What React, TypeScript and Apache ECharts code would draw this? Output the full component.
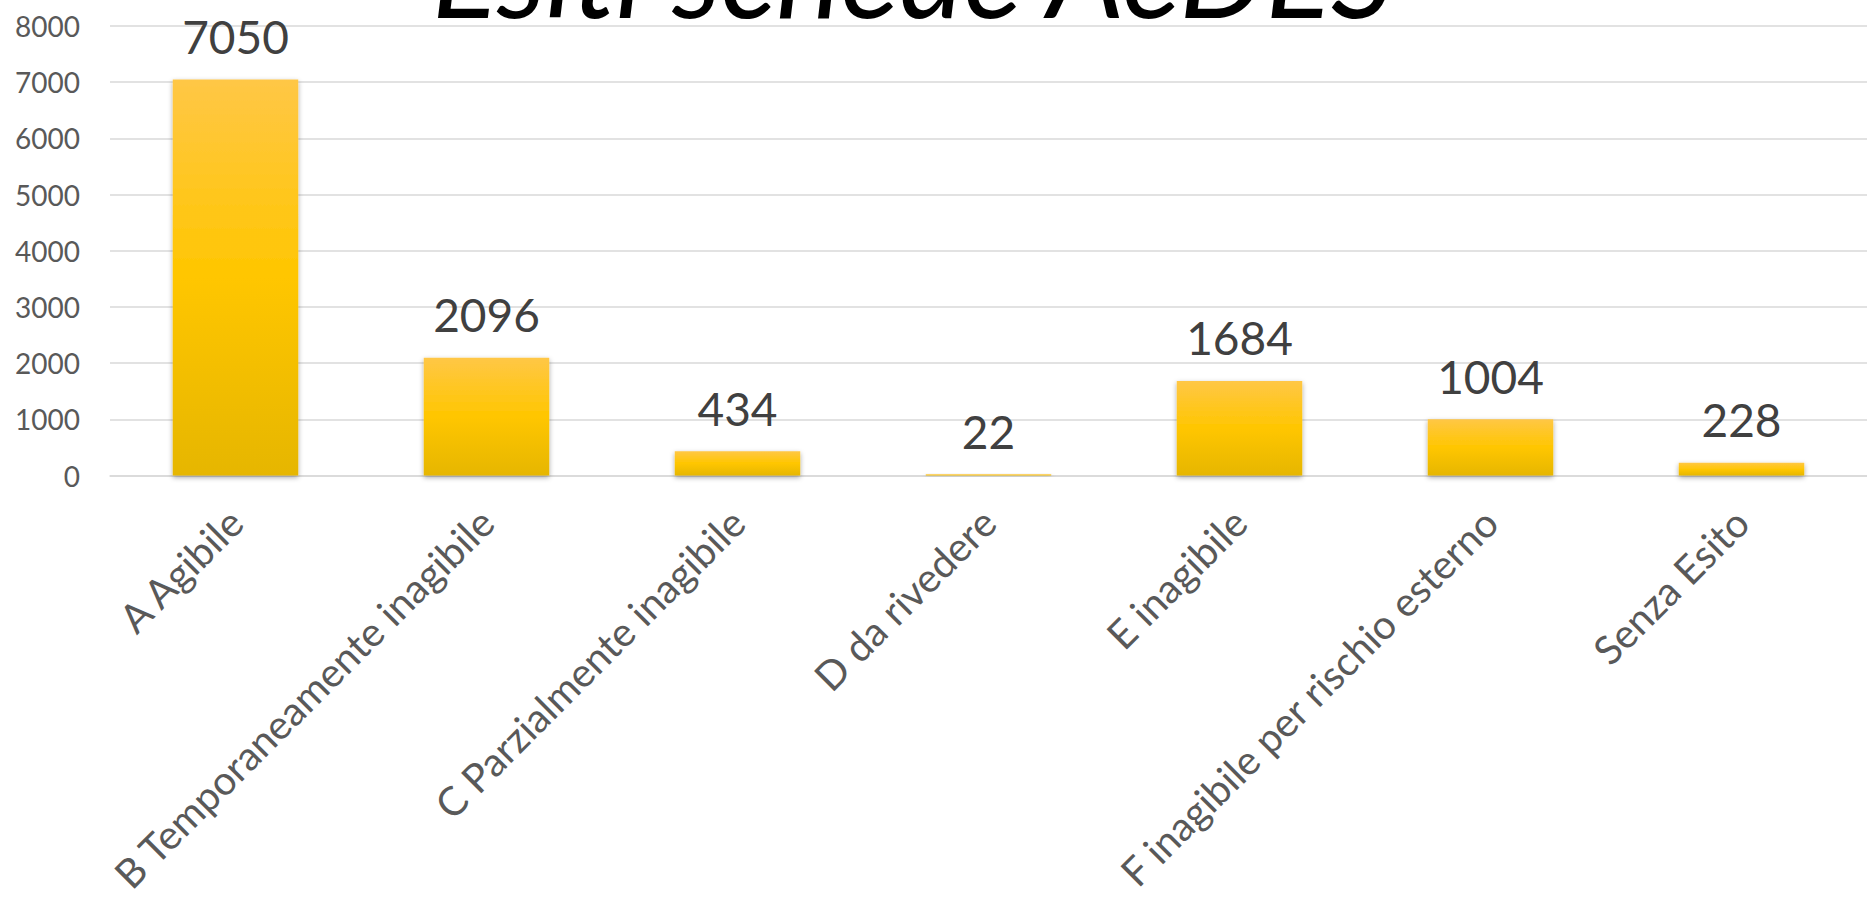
import React, { useEffect, useRef } from "react";
import * as echarts from "echarts";

const TITLE = "Esiti schede AeDES";
const categories = [
  "A Agibile",
  "B Temporaneamente inagibile",
  "C Parzialmente inagibile",
  "D da rivedere",
  "E inagibile",
  "F inagibile per rischio esterno",
  "Senza Esito",
];
const values = [7050, 2096, 434, 22, 1684, 1004, 228];
const yMin = 0;
const yMax = 8000;
const yInterval = 1000;

export default function App() {
  const ref = useRef<HTMLDivElement>(null);
  useEffect(() => {
    if (!ref.current) return;
    const chart = echarts.init(ref.current, undefined, { renderer: "svg" });
    const font = "Lato, 'Open Sans', sans-serif";
    chart.setOption({
      animation: false,
      backgroundColor: "#ffffff",
      grid: { left: 110, right: -11, top: 26, bottom: 422, containLabel: false },
      graphic: [
        {
          type: "text",
          left: 432,
          top: -90,
          style: {
            text: TITLE,
            fontSize: 122,
            fontStyle: "italic",
            fontFamily: font,
            fill: "#000000",
          },
          z: 0,
        },
      ],
      xAxis: {
        type: "category",
        data: categories,
        axisLine: { show: true, lineStyle: { color: "#D9D9D9", width: 1.5 } },
        axisTick: { show: false },
        axisLabel: {
          rotate: 45,
          interval: 0,
          margin: 40,
          fontSize: 40,
          fontFamily: font,
          color: "#595959",
        },
      },
      yAxis: {
        type: "value",
        min: yMin,
        max: yMax,
        interval: yInterval,
        axisLine: { show: false },
        axisTick: { show: false },
        splitLine: { lineStyle: { color: "#D9D9D9", width: 1.5 } },
        axisLabel: {
          margin: 30,
          fontSize: 28,
          fontFamily: font,
          color: "#595959",
          formatter: (v: number) => String(v),
        },
      },
      series: [
        {
          type: "bar",
          data: values,
          barWidth: "50%",
          itemStyle: {
            color: new echarts.graphic.LinearGradient(0, 0, 0, 1, [
              { offset: 0, color: "#FFC746" },
              { offset: 0.5, color: "#FFC600" },
              { offset: 1, color: "#E6B600" },
            ]),
            shadowColor: "rgba(0,0,0,0.35)",
            shadowBlur: 5,
            shadowOffsetY: 2,
          },
          label: {
            show: true,
            position: "top",
            distance: 20,
            fontSize: 46,
            fontFamily: font,
            color: "#404040",
          },
        },
      ],
    });
    return () => chart.dispose();
  }, []);
  return (
    <div
      ref={ref}
      style={{ position: "fixed", left: 0, top: 0, width: 1867, height: 898 }}
    />
  );
}
